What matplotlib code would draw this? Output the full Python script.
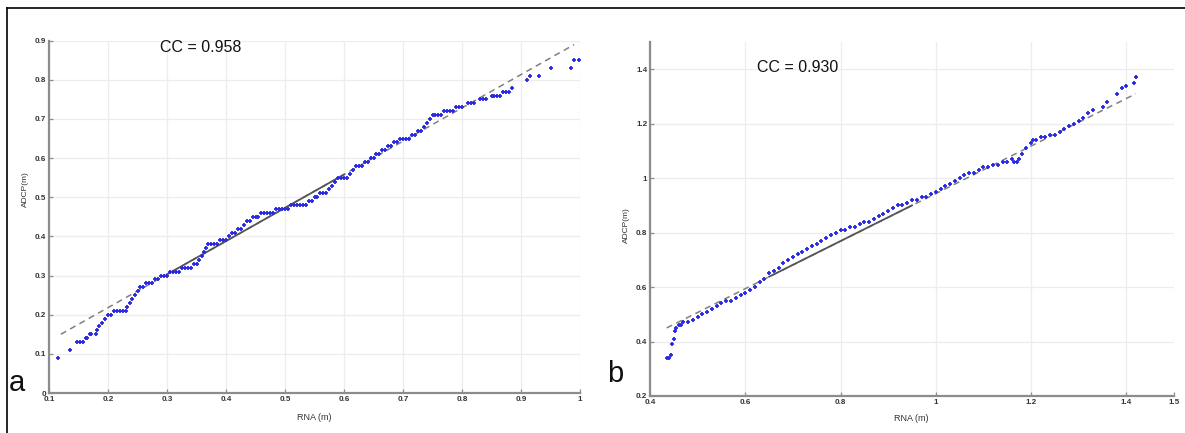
import matplotlib
matplotlib.use("Agg")
import matplotlib.pyplot as plt
from matplotlib.lines import Line2D

plt.rcParams['font.family'] = ['Liberation Sans', 'DejaVu Sans']

# ---------------- data: panel a ----------------
rna_a = [0.115, 0.135, 0.148, 0.152, 0.158, 0.162, 0.165, 0.170, 0.172, 0.180, 0.182, 0.185,
         0.190, 0.195, 0.200, 0.205, 0.210, 0.215, 0.220, 0.225, 0.230, 0.233, 0.237, 0.240,
         0.245, 0.250, 0.255, 0.260, 0.265, 0.270, 0.275, 0.280, 0.285, 0.290, 0.295, 0.300,
         0.305, 0.310, 0.315, 0.320, 0.325, 0.330, 0.335, 0.340, 0.345, 0.350, 0.355, 0.360,
         0.363, 0.366, 0.370, 0.375, 0.380, 0.385, 0.390, 0.395, 0.400, 0.405, 0.410, 0.415,
         0.420, 0.425, 0.430, 0.435, 0.440, 0.445, 0.450, 0.455, 0.460, 0.465, 0.470, 0.475,
         0.480, 0.485, 0.490, 0.495, 0.500, 0.505, 0.510, 0.515, 0.520, 0.525, 0.530, 0.535,
         0.540, 0.545, 0.550, 0.555, 0.560, 0.565, 0.570, 0.575, 0.580, 0.585, 0.590, 0.595,
         0.600, 0.605, 0.610, 0.615, 0.620, 0.625, 0.630, 0.635, 0.640, 0.645, 0.650, 0.655,
         0.660, 0.665, 0.670, 0.675, 0.680, 0.685, 0.690, 0.695, 0.700, 0.705, 0.710, 0.715,
         0.720, 0.725, 0.730, 0.735, 0.740, 0.745, 0.750, 0.755, 0.760, 0.765, 0.770, 0.775,
         0.780, 0.785, 0.790, 0.795, 0.800, 0.810, 0.815, 0.820, 0.830, 0.835, 0.840, 0.850,
         0.855, 0.860, 0.865, 0.870, 0.875, 0.880, 0.885, 0.910, 0.915, 0.930, 0.950, 0.985,
         0.990, 0.998]
adcp_a = [0.09, 0.11, 0.13, 0.13, 0.13, 0.14, 0.14, 0.15, 0.15, 0.15, 0.16, 0.17,
          0.18, 0.19, 0.20, 0.20, 0.21, 0.21, 0.21, 0.21, 0.21, 0.22, 0.23, 0.24,
          0.25, 0.26, 0.27, 0.27, 0.28, 0.28, 0.28, 0.29, 0.29, 0.30, 0.30, 0.30,
          0.31, 0.31, 0.31, 0.31, 0.32, 0.32, 0.32, 0.32, 0.33, 0.33, 0.34, 0.35,
          0.36, 0.37, 0.38, 0.38, 0.38, 0.38, 0.39, 0.39, 0.39, 0.40, 0.41, 0.41,
          0.42, 0.42, 0.43, 0.44, 0.44, 0.45, 0.45, 0.45, 0.46, 0.46, 0.46, 0.46,
          0.46, 0.47, 0.47, 0.47, 0.47, 0.47, 0.48, 0.48, 0.48, 0.48, 0.48, 0.48,
          0.49, 0.49, 0.50, 0.50, 0.51, 0.51, 0.51, 0.52, 0.53, 0.54, 0.55, 0.55,
          0.55, 0.55, 0.56, 0.57, 0.58, 0.58, 0.58, 0.59, 0.59, 0.60, 0.60, 0.61,
          0.61, 0.62, 0.62, 0.63, 0.63, 0.64, 0.64, 0.65, 0.65, 0.65, 0.65, 0.66,
          0.66, 0.67, 0.67, 0.68, 0.69, 0.70, 0.71, 0.71, 0.71, 0.71, 0.72, 0.72,
          0.72, 0.72, 0.73, 0.73, 0.73, 0.74, 0.74, 0.74, 0.75, 0.75, 0.75, 0.76,
          0.76, 0.76, 0.76, 0.77, 0.77, 0.77, 0.78, 0.80, 0.81, 0.81, 0.83, 0.83,
          0.85, 0.85]
fit_dash_x_a = [0.12, 0.99]
fit_dash_y_a = [0.15, 0.89]
fit_solid_x_a = [0.30, 0.60]
fit_solid_y_a = [0.303, 0.558]

# ---------------- data: panel b ----------------
rna_b = [0.435, 0.440, 0.445, 0.447, 0.450, 0.452, 0.455, 0.460, 0.465, 0.470, 0.480, 0.490,
         0.500, 0.510, 0.520, 0.530, 0.540, 0.550, 0.560, 0.570, 0.580, 0.590, 0.600, 0.610,
         0.620, 0.630, 0.640, 0.650, 0.660, 0.670, 0.680, 0.690, 0.700, 0.710, 0.720, 0.730,
         0.740, 0.750, 0.760, 0.770, 0.780, 0.790, 0.800, 0.810, 0.820, 0.830, 0.840, 0.850,
         0.860, 0.870, 0.880, 0.890, 0.900, 0.910, 0.920, 0.930, 0.940, 0.950, 0.960, 0.970,
         0.980, 0.990, 1.000, 1.010, 1.020, 1.030, 1.040, 1.050, 1.060, 1.070, 1.080, 1.090,
         1.100, 1.110, 1.120, 1.130, 1.140, 1.150, 1.160, 1.165, 1.170, 1.175, 1.180, 1.190,
         1.200, 1.205, 1.210, 1.220, 1.230, 1.240, 1.250, 1.260, 1.270, 1.280, 1.290, 1.300,
         1.310, 1.320, 1.330, 1.350, 1.360, 1.380, 1.390, 1.400, 1.415, 1.420]
adcp_b = [0.34, 0.34, 0.35, 0.39, 0.41, 0.44, 0.45, 0.46, 0.46, 0.47, 0.47, 0.48,
          0.49, 0.50, 0.51, 0.52, 0.53, 0.54, 0.55, 0.55, 0.56, 0.57, 0.58, 0.59,
          0.60, 0.62, 0.63, 0.65, 0.66, 0.67, 0.69, 0.70, 0.71, 0.72, 0.73, 0.74,
          0.75, 0.76, 0.77, 0.78, 0.79, 0.80, 0.81, 0.81, 0.82, 0.82, 0.83, 0.84,
          0.84, 0.85, 0.86, 0.87, 0.88, 0.89, 0.90, 0.90, 0.91, 0.92, 0.92, 0.93,
          0.93, 0.94, 0.95, 0.96, 0.97, 0.98, 0.99, 1.00, 1.01, 1.02, 1.02, 1.03,
          1.04, 1.04, 1.05, 1.05, 1.06, 1.06, 1.07, 1.06, 1.06, 1.07, 1.09, 1.11,
          1.13, 1.14, 1.14, 1.15, 1.15, 1.16, 1.16, 1.17, 1.18, 1.19, 1.20, 1.21,
          1.22, 1.24, 1.25, 1.26, 1.28, 1.31, 1.33, 1.34, 1.35, 1.37]
fit_dash_x_b = [0.435, 1.42]
fit_dash_y_b = [0.45, 1.31]
fit_solid_x_b = [0.65, 0.95]
fit_solid_y_b = [0.638, 0.900]

xticks_a = [0.1, 0.2, 0.3, 0.4, 0.5, 0.6, 0.7, 0.8, 0.9, 1.0]
xticklabels_a = ["0.1", "0.2", "0.3", "0.4", "0.5", "0.6", "0.7", "0.8", "0.9", "1"]
yticks_a = [0.0, 0.1, 0.2, 0.3, 0.4, 0.5, 0.6, 0.7, 0.8, 0.9]
yticklabels_a = ["0", "0.1", "0.2", "0.3", "0.4", "0.5", "0.6", "0.7", "0.8", "0.9"]
xticks_b = [0.4, 0.6, 0.8, 1.0, 1.2, 1.4, 1.5]
xticklabels_b = ["0.4", "0.6", "0.8", "1", "1.2", "1.4", "1.5"]
yticks_b = [0.2, 0.4, 0.6, 0.8, 1.0, 1.2, 1.4]
yticklabels_b = ["0.2", "0.4", "0.6", "0.8", "1", "1.2", "1.4"]

W, H = 1185, 433
fig = plt.figure(figsize=(W / 100, H / 100), dpi=100)
fig.patch.set_facecolor("white")


def px_axes(x0, x1, ytop, ybot):
    return fig.add_axes([x0 / W, 1 - ybot / H, (x1 - x0) / W, (ybot - ytop) / H])


ax_a = px_axes(49, 580, 40.7, 393)
ax_b = px_axes(650, 1174, 42, 396)

panels = [
    (ax_a, rna_a, adcp_a, fit_dash_x_a, fit_dash_y_a, fit_solid_x_a, fit_solid_y_a,
     (0.1, 1.0), (0.0, 0.9), xticks_a, xticklabels_a, yticks_a, yticklabels_a,
     (-0.038, 0.58), (0.499, -0.058)),
    (ax_b, rna_b, adcp_b, fit_dash_x_b, fit_dash_y_b, fit_solid_x_b, fit_solid_y_b,
     (0.4, 1.5), (0.2, 1.5), xticks_b, xticklabels_b, yticks_b, yticklabels_b,
     (-0.038, 0.483), (0.498, -0.052)),
]

for (ax, xs, ys, dx, dy, sx, sy, xl, yl, xt, xtl, yt, ytl, ylc, xlc) in panels:
    ax.grid(True, color="#ededed", linewidth=0.9, zorder=0)
    ax.set_axisbelow(True)
    ax.plot(dx, dy, linestyle=(0, (4, 3)), color="#808080", linewidth=1.1, zorder=2)
    ax.plot(sx, sy, linestyle="-", color="#555555", linewidth=1.3, zorder=2)
    ax.plot(xs, ys, linestyle="none", marker="+", markersize=3.4, markeredgewidth=1.3,
            color="#2a2ae0", zorder=3)
    ax.set_xlim(*xl)
    ax.set_ylim(*yl)
    ax.set_xticks(xt)
    ax.set_xticklabels(xtl)
    ax.set_yticks(yt)
    ax.set_yticklabels(ytl)
    for side in ("top", "right"):
        ax.spines[side].set_visible(False)
    for side in ("left", "bottom"):
        ax.spines[side].set_color("#8c8c8c")
        ax.spines[side].set_linewidth(1.6)
    ax.tick_params(direction="in", length=3, width=0.9, color="#8c8c8c",
                   labelsize=5.8, labelcolor="#333333", pad=2)
    for lab in ax.get_xticklabels() + ax.get_yticklabels():
        lab.set_fontweight("bold")
    ax.set_ylabel("ADCP(m)", fontsize=6, color="#333333")
    ax.yaxis.set_label_coords(*ylc)
    ax.set_xlabel("RNA (m)", fontsize=6.5, color="#333333")
    ax.xaxis.set_label_coords(*xlc)

fig.text(160 / W, 1 - 47 / H, "CC = 0.958", fontsize=11.5, ha="left", va="center", color="#111111")
fig.text(757 / W, 1 - 68 / H, "CC = 0.930", fontsize=11.5, ha="left", va="center", color="#111111")
fig.text(9 / W, 1 - 383 / H, "a", fontsize=21, ha="left", va="center", color="#111111")
fig.text(607 / W, 1 - 374 / H, "b", fontsize=21, ha="left", va="center", color="#111111")

# outer frame (top and left edges visible in crop)
fig.add_artist(Line2D([7 / W, 1.0], [1 - 7.5 / H, 1 - 7.5 / H], color="black", linewidth=1.2,
                      transform=fig.transFigure))
fig.add_artist(Line2D([7 / W, 7 / W], [0.0, 1 - 7.5 / H], color="black", linewidth=1.2,
                      transform=fig.transFigure))

fig.savefig("out.png", dpi=100, facecolor="white")
